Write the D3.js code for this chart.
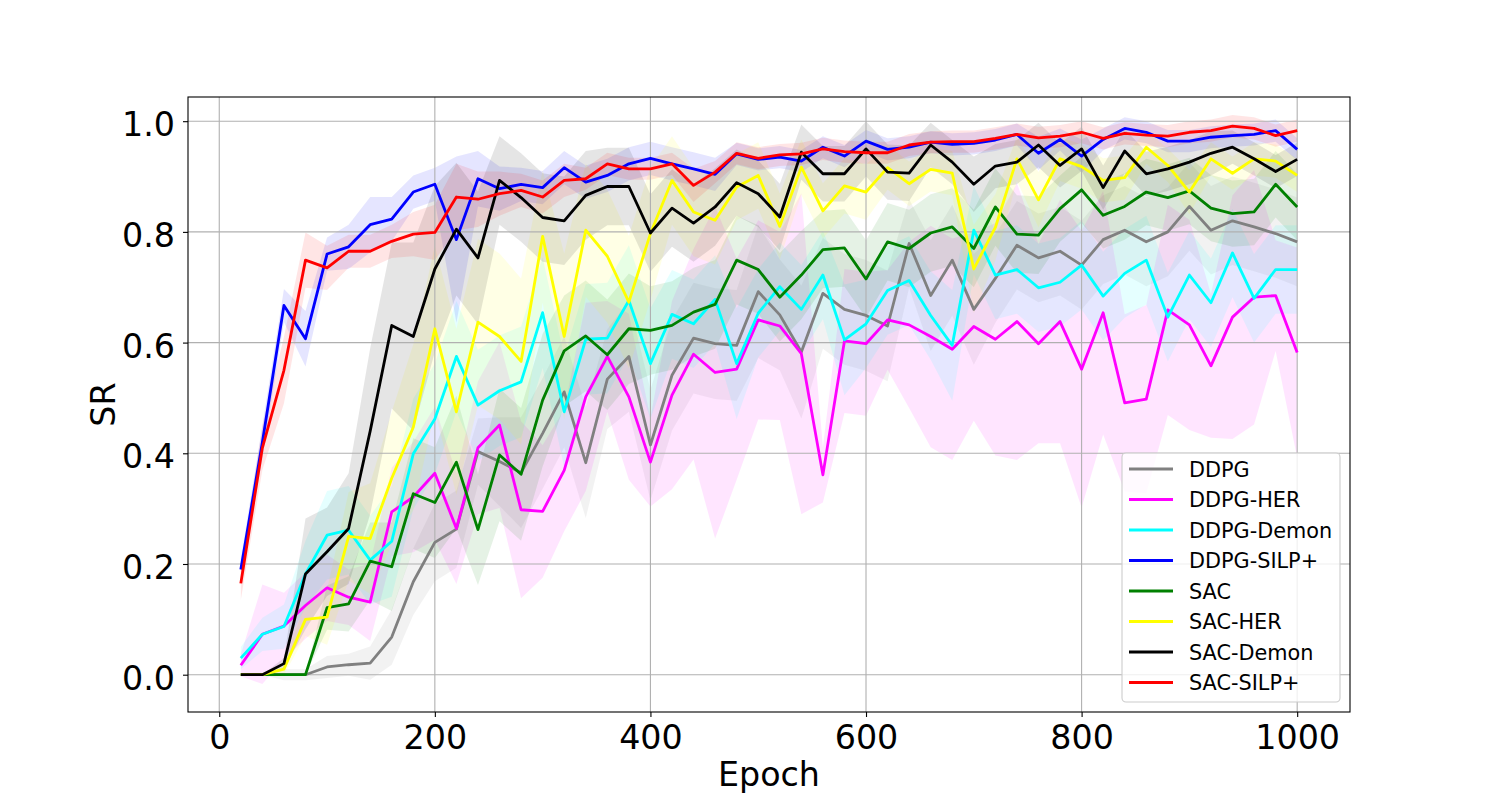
<!DOCTYPE html>
<html>
<head>
<meta charset="utf-8">
<script src="https://cdn.jsdelivr.net/npm/d3@7"></script>
<style>
  body { margin: 0; background: #fff; }
  svg text { font-family: 'DejaVu Sans', sans-serif; }
</style>
</head>
<body>
<div id="chart"></div>
<script>
// Epochs (x values)
const EPOCHS = [20, 40, 60, 80, 100, 120, 140, 160, 180, 200,
  220, 240, 260, 280, 300, 320, 340, 360, 380, 400,
  420, 440, 460, 480, 500, 520, 540, 560, 580, 600,
  620, 640, 660, 680, 700, 720, 740, 760, 780, 800,
  820, 840, 860, 880, 900, 920, 940, 960, 980, 1000];

const X_TICKS = [0, 200, 400, 600, 800, 1000];
const Y_TICKS = [0.0, 0.2, 0.4, 0.6, 0.8, 1.0];

// Mean success rate per method
const DDPG = [0, 0, 0, 0, 0.014, 0.018, 0.021, 0.068, 0.168, 0.239,
  0.263, 0.403, 0.385, 0.365, 0.436, 0.511, 0.383, 0.534, 0.575, 0.415,
  0.541, 0.608, 0.598, 0.595, 0.692, 0.650, 0.583, 0.689, 0.660, 0.649,
  0.630, 0.779, 0.685, 0.749, 0.660, 0.716, 0.776, 0.753, 0.765, 0.740,
  0.786, 0.803, 0.782, 0.800, 0.846, 0.803, 0.820, 0.809, 0.797, 0.782];
const DDPG_HER = [0.017, 0.073, 0.088, 0.125, 0.157, 0.140, 0.131, 0.294, 0.321, 0.364,
  0.264, 0.410, 0.451, 0.298, 0.295, 0.369, 0.502, 0.575, 0.502, 0.384,
  0.505, 0.579, 0.546, 0.552, 0.641, 0.630, 0.580, 0.361, 0.603, 0.598,
  0.641, 0.632, 0.611, 0.588, 0.629, 0.606, 0.638, 0.598, 0.638, 0.552,
  0.654, 0.491, 0.498, 0.659, 0.632, 0.558, 0.646, 0.682, 0.685, 0.582];
const DDPG_DEMON = [0.030, 0.073, 0.087, 0.182, 0.252, 0.261, 0.207, 0.241, 0.399, 0.462,
  0.575, 0.487, 0.513, 0.529, 0.654, 0.475, 0.606, 0.608, 0.676, 0.562,
  0.651, 0.634, 0.678, 0.562, 0.653, 0.701, 0.660, 0.722, 0.605, 0.634,
  0.694, 0.712, 0.649, 0.595, 0.803, 0.722, 0.732, 0.699, 0.709, 0.740,
  0.684, 0.725, 0.749, 0.646, 0.722, 0.672, 0.762, 0.680, 0.732, 0.732];
const DDPG_SILP = [0.190, 0.420, 0.667, 0.607, 0.760, 0.773, 0.813, 0.823, 0.872, 0.886,
  0.786, 0.896, 0.878, 0.886, 0.880, 0.916, 0.890, 0.902, 0.923, 0.933,
  0.923, 0.914, 0.904, 0.941, 0.931, 0.935, 0.928, 0.953, 0.937, 0.964,
  0.949, 0.953, 0.962, 0.958, 0.960, 0.966, 0.976, 0.942, 0.967, 0.937,
  0.967, 0.987, 0.980, 0.964, 0.964, 0.971, 0.974, 0.976, 0.983, 0.949];
const SAC = [0, 0, 0, 0, 0.121, 0.128, 0.205, 0.195, 0.327, 0.311,
  0.384, 0.262, 0.397, 0.362, 0.496, 0.585, 0.612, 0.578, 0.625, 0.622,
  0.631, 0.655, 0.669, 0.749, 0.732, 0.682, 0.722, 0.768, 0.771, 0.715,
  0.782, 0.770, 0.798, 0.809, 0.770, 0.845, 0.796, 0.794, 0.842, 0.876,
  0.830, 0.846, 0.872, 0.862, 0.874, 0.843, 0.833, 0.836, 0.886, 0.845];
const SAC_HER = [0, 0, 0.010, 0.100, 0.104, 0.250, 0.246, 0.355, 0.447, 0.625,
  0.475, 0.637, 0.611, 0.566, 0.792, 0.611, 0.803, 0.756, 0.673, 0.797,
  0.893, 0.836, 0.821, 0.881, 0.902, 0.810, 0.917, 0.838, 0.883, 0.872,
  0.916, 0.887, 0.913, 0.906, 0.733, 0.808, 0.932, 0.858, 0.932, 0.918,
  0.893, 0.898, 0.953, 0.920, 0.872, 0.932, 0.906, 0.932, 0.928, 0.902];
const SAC_DEMON = [0, 0, 0.020, 0.182, 0.222, 0.264, 0.440, 0.631, 0.611, 0.733,
  0.805, 0.753, 0.893, 0.862, 0.826, 0.820, 0.866, 0.882, 0.882, 0.798,
  0.843, 0.816, 0.845, 0.889, 0.869, 0.827, 0.944, 0.905, 0.905, 0.950,
  0.908, 0.906, 0.957, 0.926, 0.886, 0.919, 0.926, 0.957, 0.920, 0.950,
  0.880, 0.946, 0.905, 0.914, 0.926, 0.942, 0.953, 0.932, 0.909, 0.931];
const SAC_SILP = [0.165, 0.410, 0.550, 0.749, 0.735, 0.765, 0.765, 0.783, 0.796, 0.799,
  0.863, 0.859, 0.869, 0.875, 0.863, 0.893, 0.896, 0.923, 0.914, 0.914,
  0.923, 0.884, 0.908, 0.942, 0.933, 0.939, 0.941, 0.950, 0.945, 0.943,
  0.943, 0.957, 0.962, 0.963, 0.963, 0.969, 0.976, 0.970, 0.973, 0.980,
  0.969, 0.978, 0.975, 0.973, 0.980, 0.983, 0.991, 0.987, 0.974, 0.983];

// Spread (half width of the shaded band) per method
const DDPG_STD = [0, 0, 0.01, 0.01, 0.02, 0.02, 0.03, 0.05, 0.06, 0.07,
  0.07, 0.06, 0.08, 0.10, 0.10, 0.10, 0.10, 0.09, 0.10, 0.10,
  0.10, 0.10, 0.10, 0.10, 0.12, 0.10, 0.12, 0.10, 0.10, 0.10,
  0.10, 0.08, 0.10, 0.10, 0.10, 0.08, 0.08, 0.08, 0.08, 0.08,
  0.08, 0.08, 0.08, 0.08, 0.08, 0.08, 0.08, 0.08, 0.08, 0.08];
const DDPG_HER_STD = [0.02, 0.09, 0.06, 0.06, 0.06, 0.05, 0.07, 0.08, 0.10, 0.12,
  0.10, 0.12, 0.15, 0.16, 0.12, 0.11, 0.17, 0.10, 0.15, 0.08,
  0.17, 0.19, 0.30, 0.20, 0.18, 0.17, 0.29, 0.05, 0.13, 0.13,
  0.09, 0.15, 0.20, 0.20, 0.17, 0.21, 0.25, 0.18, 0.22, 0.25,
  0.22, 0.16, 0.17, 0.19, 0.19, 0.13, 0.22, 0.23, 0.10, 0.19];
const DDPG_DEMON_STD = [0.02, 0.03, 0.04, 0.06, 0.08, 0.08, 0.08, 0.10, 0.10, 0.10,
  0.10, 0.10, 0.10, 0.10, 0.10, 0.10, 0.10, 0.10, 0.10, 0.10,
  0.08, 0.08, 0.08, 0.10, 0.08, 0.08, 0.08, 0.08, 0.10, 0.08,
  0.08, 0.08, 0.08, 0.10, 0.08, 0.08, 0.08, 0.08, 0.08, 0.08,
  0.08, 0.08, 0.08, 0.08, 0.08, 0.08, 0.08, 0.08, 0.08, 0.08];
const DDPG_SILP_STD = [0.02, 0.03, 0.03, 0.05, 0.03, 0.04, 0.05, 0.04, 0.03, 0.03,
  0.15, 0.05, 0.04, 0.03, 0.03, 0.03, 0.03, 0.03, 0.03, 0.03,
  0.03, 0.03, 0.03, 0.02, 0.02, 0.02, 0.02, 0.02, 0.02, 0.02,
  0.02, 0.02, 0.02, 0.02, 0.02, 0.02, 0.02, 0.03, 0.02, 0.03,
  0.02, 0.02, 0.02, 0.02, 0.02, 0.02, 0.02, 0.02, 0.02, 0.02];
const SAC_STD = [0, 0, 0, 0, 0.04, 0.05, 0.07, 0.08, 0.10, 0.10,
  0.12, 0.10, 0.12, 0.12, 0.12, 0.10, 0.10, 0.10, 0.10, 0.08,
  0.08, 0.08, 0.08, 0.08, 0.08, 0.08, 0.08, 0.07, 0.07, 0.07,
  0.07, 0.07, 0.07, 0.07, 0.07, 0.07, 0.07, 0.07, 0.06, 0.06,
  0.06, 0.06, 0.06, 0.06, 0.06, 0.06, 0.06, 0.06, 0.06, 0.06];
const SAC_HER_STD = [0, 0, 0.01, 0.03, 0.05, 0.08, 0.10, 0.12, 0.15, 0.15,
  0.15, 0.15, 0.15, 0.15, 0.12, 0.15, 0.12, 0.12, 0.12, 0.12,
  0.08, 0.08, 0.08, 0.06, 0.06, 0.06, 0.05, 0.05, 0.05, 0.05,
  0.04, 0.04, 0.04, 0.04, 0.08, 0.06, 0.04, 0.05, 0.04, 0.04,
  0.04, 0.04, 0.03, 0.03, 0.04, 0.03, 0.03, 0.03, 0.03, 0.03];
const SAC_DEMON_STD = [0, 0, 0.01, 0.10, 0.08, 0.10, 0.15, 0.15, 0.17, 0.15,
  0.12, 0.12, 0.08, 0.08, 0.08, 0.08, 0.08, 0.07, 0.07, 0.07,
  0.07, 0.07, 0.07, 0.06, 0.06, 0.06, 0.05, 0.05, 0.05, 0.05,
  0.05, 0.05, 0.04, 0.04, 0.05, 0.04, 0.04, 0.04, 0.04, 0.04,
  0.04, 0.04, 0.04, 0.04, 0.04, 0.04, 0.03, 0.03, 0.03, 0.03];
const SAC_SILP_STD = [0.03, 0.04, 0.06, 0.05, 0.04, 0.03, 0.03, 0.03, 0.04, 0.05,
  0.06, 0.05, 0.04, 0.03, 0.03, 0.03, 0.02, 0.02, 0.02, 0.02,
  0.02, 0.03, 0.02, 0.02, 0.02, 0.02, 0.02, 0.02, 0.02, 0.02,
  0.02, 0.02, 0.02, 0.02, 0.02, 0.02, 0.02, 0.02, 0.02, 0.02,
  0.02, 0.02, 0.02, 0.02, 0.02, 0.02, 0.02, 0.02, 0.02, 0.02];

const LABELS = ['DDPG', 'DDPG-HER', 'DDPG-Demon', 'DDPG-SILP+', 'SAC', 'SAC-HER', 'SAC-Demon', 'SAC-SILP+'];
const COLORS = ['#808080', '#ff00ff', '#00ffff', '#0000ff', '#008000', '#ffff00', '#000000', '#ff0000'];

(function () {
  'use strict';

  const MEANS = [DDPG, DDPG_HER, DDPG_DEMON, DDPG_SILP, SAC, SAC_HER, SAC_DEMON, SAC_SILP];
  const STDS = [DDPG_STD, DDPG_HER_STD, DDPG_DEMON_STD, DDPG_SILP_STD, SAC_STD, SAC_HER_STD, SAC_DEMON_STD, SAC_SILP_STD];

  const series = LABELS.map((name, i) => ({
    name: name,
    color: COLORS[i],
    points: EPOCHS.map((e, j) => ({ x: e, y: MEANS[i][j], s: STDS[i][j] }))
  }));

  const W = 1500, H = 800;
  const left = 188, right = 1350, top = 97, bottom = 712;
  const FS = 33.3;

  const svg = d3.select('#chart').append('svg')
    .attr('width', W)
    .attr('height', H);

  // matplotlib-like 5% margins around the data
  const x = d3.scaleLinear().domain([-29, 1049]).range([left, right]);
  const y = d3.scaleLinear().domain([-0.0674, 1.0437]).range([bottom, top]);

  svg.append('clipPath').attr('id', 'plot-clip')
    .append('rect')
    .attr('x', left).attr('y', top)
    .attr('width', right - left).attr('height', bottom - top);

  // Shaded bands (below grid)
  const area = d3.area()
    .x((d) => x(d.x))
    .y0((d) => y(d.y - d.s))
    .y1((d) => y(d.y + d.s));

  svg.append('g').attr('class', 'bands')
    .attr('clip-path', 'url(#plot-clip)')
    .selectAll('path')
    .data(series)
    .join('path')
    .attr('d', (d) => area(d.points))
    .attr('fill', (d) => d.color)
    .attr('fill-opacity', 0.1)
    .attr('stroke', 'none');

  // Grid
  const grid = svg.append('g').attr('class', 'grid');
  grid.selectAll('line.gx')
    .data(X_TICKS)
    .join('line')
    .attr('class', 'gx')
    .attr('x1', (d) => x(d)).attr('x2', (d) => x(d))
    .attr('y1', top).attr('y2', bottom)
    .attr('stroke', '#b0b0b0').attr('stroke-width', 1.1);
  grid.selectAll('line.gy')
    .data(Y_TICKS)
    .join('line')
    .attr('class', 'gy')
    .attr('x1', left).attr('x2', right)
    .attr('y1', (d) => y(d)).attr('y2', (d) => y(d))
    .attr('stroke', '#b0b0b0').attr('stroke-width', 1.1);

  // Mean lines
  const line = d3.line()
    .x((d) => x(d.x))
    .y((d) => y(d.y));

  svg.append('g').attr('class', 'lines')
    .attr('clip-path', 'url(#plot-clip)')
    .selectAll('path')
    .data(series)
    .join('path')
    .attr('d', (d) => line(d.points))
    .attr('fill', 'none')
    .attr('stroke', (d) => d.color)
    .attr('stroke-width', 2.8)
    .attr('stroke-linejoin', 'round')
    .attr('stroke-linecap', 'butt');

  // Axes
  const xAxis = svg.append('g')
    .attr('transform', 'translate(0,' + bottom + ')')
    .call(d3.axisBottom(x).tickValues(X_TICKS).tickFormat(d3.format('d')).tickSize(5).tickPadding(8).tickSizeOuter(0));
  const yAxis = svg.append('g')
    .attr('transform', 'translate(' + left + ',0)')
    .call(d3.axisLeft(y).tickValues(Y_TICKS).tickFormat(d3.format('.1f')).tickSize(5).tickPadding(8).tickSizeOuter(0));

  [xAxis, yAxis].forEach((ax) => {
    ax.select('.domain').remove();
    ax.selectAll('.tick line').attr('stroke', '#000').attr('stroke-width', 1.1);
    ax.selectAll('.tick text')
      .attr('fill', '#000')
      .style('font-size', FS + 'px')
      .style('font-family', "'DejaVu Sans', sans-serif");
  });
  yAxis.selectAll('.tick text').attr('dy', '0.44em');

  // Spines
  svg.append('rect')
    .attr('x', left).attr('y', top)
    .attr('width', right - left).attr('height', bottom - top)
    .attr('fill', 'none')
    .attr('stroke', '#000')
    .attr('stroke-width', 1.1);

  // Axis labels
  svg.append('text')
    .attr('x', (left + right) / 2)
    .attr('y', 786)
    .attr('text-anchor', 'middle')
    .style('font-size', FS + 'px')
    .text('Epoch');

  svg.append('text')
    .attr('transform', 'translate(115,' + ((top + bottom) / 2) + ') rotate(-90)')
    .attr('text-anchor', 'middle')
    .style('font-size', FS + 'px')
    .text('SR');

  // Legend
  const LFS = 20.8;
  const legend = svg.append('g').attr('class', 'legend');
  legend.append('rect')
    .attr('x', 1122).attr('y', 453)
    .attr('width', 218).attr('height', 249)
    .attr('rx', 4)
    .attr('fill', '#fff')
    .attr('fill-opacity', 0.8)
    .attr('stroke', '#cccccc')
    .attr('stroke-width', 1.1);

  const items = legend.selectAll('g.legend-item')
    .data(series)
    .join('g')
    .attr('class', 'legend-item')
    .attr('transform', (d, i) => 'translate(0,' + (469 + i * 30.5) + ')');

  items.append('line')
    .attr('x1', 1129).attr('x2', 1173)
    .attr('y1', 0).attr('y2', 0)
    .attr('stroke', (d) => d.color)
    .attr('stroke-width', 2.8);

  items.append('text')
    .attr('x', 1189)
    .attr('y', 0)
    .attr('dy', '0.36em')
    .style('font-size', LFS + 'px')
    .attr('fill', '#000')
    .text((d) => d.name);
})();
</script>
</body>
</html>
